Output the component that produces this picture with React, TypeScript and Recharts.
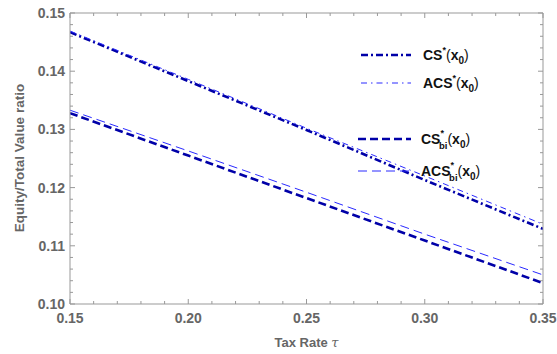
import React from 'react';
import { LineChart, Line, XAxis, YAxis } from 'recharts';

// tax rate on the x axis
const taxRates = [0.15, 0.2, 0.25, 0.3, 0.35];

// equity / total value ratio
const csStar = [0.1467, 0.1383, 0.1299, 0.1213, 0.1129];
const acsStar = [0.1469, 0.1386, 0.1302, 0.1220, 0.1137];
const csBi = [0.1328, 0.1255, 0.1182, 0.1109, 0.1036];
const acsBi = [0.1333, 0.1263, 0.1192, 0.1120, 0.1050];

const xTicks = [
  0.15, 0.16, 0.17, 0.18, 0.19, 0.2, 0.21, 0.22, 0.23, 0.24, 0.25,
  0.26, 0.27, 0.28, 0.29, 0.3, 0.31, 0.32, 0.33, 0.34, 0.35,
];
const yTicks = [
  0.1, 0.102, 0.104, 0.106, 0.108, 0.11, 0.112, 0.114, 0.116, 0.118, 0.12,
  0.122, 0.124, 0.126, 0.128, 0.13, 0.132, 0.134, 0.136, 0.138, 0.14,
  0.142, 0.144, 0.146, 0.148, 0.15,
];

const data = taxRates.map((t, i) => ({
  tau: t,
  cs: csStar[i],
  acs: acsStar[i],
  csbi: csBi[i],
  acsbi: acsBi[i],
}));

const DARK = '#0000a8';
const LIGHT = '#2a2aff';
const FRAME = '#999999';
const LABEL = '#666666';
const FONT = '"Liberation Sans", Arial, sans-serif';

const series = [
  { key: 'cs', base: 'CS', sub: '', color: DARK, width: 2.6, dash: '7 3 2 3' },
  { key: 'acs', base: 'ACS', sub: '', color: LIGHT, width: 1, dash: '6 4 1.5 4' },
  { key: 'csbi', base: 'CS', sub: 'bi', color: DARK, width: 2.6, dash: '8 4' },
  { key: 'acsbi', base: 'ACS', sub: 'bi', color: LIGHT, width: 1, dash: '9 5' },
];

const isMajorX = (v: number) => Math.round(v * 100) % 5 === 0;
const isMajorY = (v: number) => Math.round(v * 1000) % 10 === 0;

const BottomTick = (props: any) => {
  const { x, y, payload } = props;
  const major = isMajorX(payload.value);
  return (
    <g>
      <line x1={x} x2={x} y1={y} y2={y - (major ? 5 : 3)} stroke={FRAME} />
      {major && (
        <text x={x} y={y + 19} textAnchor="middle" fill={LABEL}
          fontSize={14} fontWeight="bold" fontFamily={FONT}>
          {payload.value.toFixed(2)}
        </text>
      )}
    </g>
  );
};

const TopTick = (props: any) => {
  const { x, y, payload } = props;
  const major = isMajorX(payload.value);
  return <line x1={x} x2={x} y1={y} y2={y + (major ? 5 : 3)} stroke={FRAME} />;
};

const LeftTick = (props: any) => {
  const { x, y, payload } = props;
  const major = isMajorY(payload.value);
  return (
    <g>
      <line x1={x} x2={x + (major ? 5 : 3)} y1={y} y2={y} stroke={FRAME} />
      {major && (
        <text x={x - 5} y={y + 5} textAnchor="end" fill={LABEL}
          fontSize={14} fontWeight="bold" fontFamily={FONT}>
          {payload.value.toFixed(2)}
        </text>
      )}
    </g>
  );
};

const RightTick = (props: any) => {
  const { x, y, payload } = props;
  const major = isMajorY(payload.value);
  return <line x1={x} x2={x - (major ? 5 : 3)} y1={y} y2={y} stroke={FRAME} />;
};

const XTitle = (props: any) => {
  const { viewBox } = props;
  const cx = viewBox.x + viewBox.width / 2;
  return (
    <text x={cx} y={viewBox.y + 43} textAnchor="middle" fill={LABEL}
      fontSize={13} fontWeight="bold" fontFamily={FONT}>
      Tax Rate <tspan fontStyle="italic" fontWeight="normal" fontFamily="'DejaVu Serif', serif">τ</tspan>
    </text>
  );
};

const YTitle = () => {
  const cy = 158;
  return (
    <text x={19} y={cy} transform={`rotate(-90, 19, ${cy})`} textAnchor="middle"
      dominantBaseline="central" fill={LABEL} fontSize={13.5} fontWeight="bold" fontFamily={FONT}>
      Equity/Total Value ratio
    </text>
  );
};

const legendRows = [
  { y: 55, x1: 361, tx: 423 },
  { y: 83, x1: 361, tx: 423 },
  { y: 139, x1: 358, tx: 421 },
  { y: 171, x1: 358, tx: 421 },
];

const LegendOverlay = () => (
  <svg width={557} height={354} style={{ position: 'absolute', left: 0, top: 0, pointerEvents: 'none' }}>
    {series.map((s, i) => {
      const r = legendRows[i];
      return (
        <g key={s.key}>
          <line x1={r.x1} x2={411} y1={r.y} y2={r.y} stroke={s.color}
            strokeWidth={s.width} strokeDasharray={s.dash} />
          <text x={r.tx} y={r.y + 5} fill="#111" fontSize={14} fontWeight="bold" fontFamily={FONT}>
            {s.base}
            {s.sub ? (
              <>
                <tspan fontSize={9} dy={-8}>*</tspan>
                <tspan fontSize={9.5} dx={-5} dy={13}>{s.sub}</tspan>
                <tspan fontSize={14} dy={-5} fontWeight="normal">(</tspan>
              </>
            ) : (
              <>
                <tspan fontSize={9} dy={-7}>*</tspan>
                <tspan fontSize={14} dy={7} fontWeight="normal">(</tspan>
              </>
            )}
            <tspan>x</tspan>
            <tspan fontSize={10} dy={4}>0</tspan>
            <tspan fontSize={14} dy={-4} fontWeight="normal">)</tspan>
          </text>
        </g>
      );
    })}
  </svg>
);

export default function App() {
  return (
    <div style={{ position: 'absolute', left: 0, top: 0, width: 557, height: 354, background: '#fff' }}>
      <LineChart width={557} height={354} data={data}
        margin={{ top: 0, right: 0, bottom: 0, left: 0 }}>
        <XAxis xAxisId="b" dataKey="tau" type="number" domain={[0.15, 0.35]} ticks={xTicks}
          orientation="bottom" height={50} tickSize={0} tickMargin={0} tickLine={false}
          axisLine={{ stroke: FRAME }} tick={<BottomTick />} interval={0}
          allowDataOverflow label={<XTitle />} />
        <XAxis xAxisId="t" dataKey="tau" type="number" domain={[0.15, 0.35]} ticks={xTicks}
          orientation="top" height={13} tickSize={0} tickMargin={0} tickLine={false}
          axisLine={{ stroke: FRAME }} tick={<TopTick />} interval={0} allowDataOverflow />
        <YAxis yAxisId="l" type="number" domain={[0.1, 0.15]} ticks={yTicks}
          orientation="left" width={70} tickSize={0} tickMargin={0} tickLine={false}
          axisLine={{ stroke: FRAME }} tick={<LeftTick />} interval={0}
          allowDataOverflow label={<YTitle />} />
        <YAxis yAxisId="r" type="number" domain={[0.1, 0.15]} ticks={yTicks}
          orientation="right" width={14} tickSize={0} tickMargin={0} tickLine={false}
          axisLine={{ stroke: FRAME }} tick={<RightTick />} interval={0} allowDataOverflow />
        {series.map((s) => (
          <Line key={s.key} xAxisId="b" yAxisId="l" dataKey={s.key} stroke={s.color}
            strokeWidth={s.width} strokeDasharray={s.dash} dot={false}
            isAnimationActive={false} type="linear" />
        ))}
      </LineChart>
      <LegendOverlay />
    </div>
  );
}
